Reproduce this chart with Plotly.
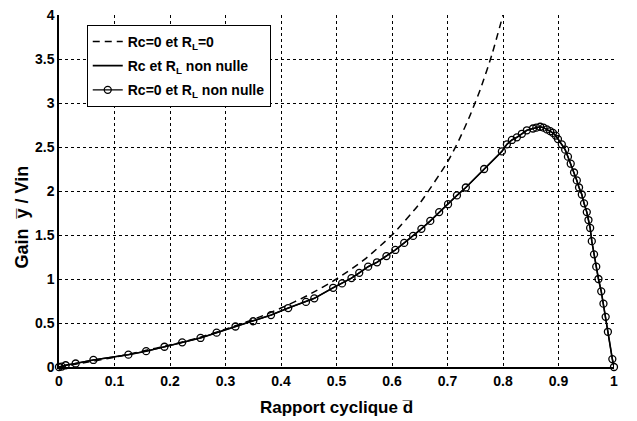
import plotly.graph_objects as go

# Ideal curve (Rc=0 et RL=0)
d_ideal = [0, 0.05, 0.1, 0.15, 0.2, 0.25, 0.3, 0.35, 0.4, 0.45, 0.5, 0.55, 0.6, 0.65,
           0.7, 0.72, 0.74, 0.76, 0.78, 0.8]
g_ideal = [0, 0.053, 0.11, 0.18, 0.25, 0.33, 0.43, 0.54, 0.67, 0.82, 1.0, 1.22, 1.5, 1.86,
           2.33, 2.57, 2.85, 3.17, 3.55, 4.0]

# Lossy curve
d_loss = [0, 0.005, 0.012, 0.03, 0.062, 0.125, 0.157, 0.19, 0.222, 0.255, 0.284, 0.318,
          0.35, 0.382, 0.413, 0.445, 0.46, 0.494, 0.51, 0.527, 0.541, 0.557, 0.573, 0.59,
          0.606, 0.622, 0.638, 0.653, 0.669, 0.685, 0.701, 0.717, 0.733, 0.766, 0.798,
          0.807, 0.816, 0.825, 0.834, 0.843, 0.854, 0.86, 0.867, 0.873, 0.879, 0.885,
          0.89, 0.895, 0.899, 0.906, 0.912, 0.917, 0.922, 0.928, 0.933, 0.937, 0.942,
          0.946, 0.951, 0.954, 0.957, 0.96, 0.964, 0.968, 0.972, 0.977, 0.981, 0.985,
          0.989, 0.997, 1.0]
g_loss = [0, 0.005, 0.02, 0.04, 0.08, 0.14, 0.18, 0.23, 0.28, 0.33, 0.39, 0.46,
          0.52, 0.59, 0.67, 0.74, 0.78, 0.90, 0.95, 1.01, 1.07, 1.14, 1.19, 1.26,
          1.33, 1.41, 1.49, 1.57, 1.66, 1.76, 1.85, 1.95, 2.04, 2.25, 2.45,
          2.53, 2.58, 2.61, 2.65, 2.69, 2.71, 2.72, 2.73, 2.72, 2.70, 2.68,
          2.66, 2.63, 2.59, 2.53, 2.47, 2.39, 2.31, 2.21, 2.12, 2.04, 1.96,
          1.86, 1.76, 1.67, 1.58, 1.43, 1.28, 1.14, 1.0, 0.86, 0.72, 0.57,
          0.4, 0.09, 0]

x_ticks = [0, 0.1, 0.2, 0.3, 0.4, 0.5, 0.6, 0.7, 0.8, 0.9, 1]
x_ticklabels = ["0", "0.1", "0.2", "0.3", "0.4", "0.5", "0.6", "0.7", "0.8", "0.9", "1"]
y_ticks = [0, 0.5, 1, 1.5, 2, 2.5, 3, 3.5, 4]
y_ticklabels = ["0", "0.5", "1", "1.5", "2", "2.5", "3", "3.5", "4"]

FONT = "Liberation Sans, Arial, sans-serif"

fig = go.Figure()
fig.add_trace(go.Scatter(
    x=d_ideal, y=g_ideal, mode="lines", name="Rc=0 et R<sub>L</sub>=0", legendgroup="a",
    line=dict(color="black", width=1.5, dash="7px,5px", shape="spline", smoothing=0.6),
))
fig.add_trace(go.Scatter(
    x=d_loss, y=g_loss, mode="lines", name="Rc et R<sub>L</sub> non nulle", legendgroup="b",
    line=dict(color="black", width=1.6),
))
fig.add_trace(go.Scatter(
    x=d_loss, y=g_loss, mode="lines+markers", name="Rc=0 et R<sub>L</sub> non nulle",
    legendgroup="c",
    line=dict(color="black", width=1.3),
    marker=dict(symbol="circle-open", size=7, color="black", line=dict(width=1.3)),
    cliponaxis=False,
))

fig.update_layout(
    width=637, height=421,
    margin=dict(l=59, r=23, t=15, b=54, autoexpand=False),
    plot_bgcolor="white", paper_bgcolor="white",
    font=dict(family=FONT, color="black"),
    showlegend=True,
    legend=dict(
        x=0.05, y=0.972, xanchor="left", yanchor="top",
        bgcolor="white", bordercolor="black", borderwidth=1,
        font=dict(family=FONT, size=14, weight="bold", color="black"),
        tracegroupgap=3, itemwidth=30,
    ),
    annotations=[dict(
        text="Gain  y\u0305 / Vin", textangle=-90,
        xref="paper", yref="paper", x=-0.066, y=0.426,
        xanchor="center", yanchor="middle", showarrow=False,
        font=dict(family=FONT, size=18, weight="bold", color="black"),
    )],
)
fig.update_xaxes(
    range=[0, 1], tickvals=x_ticks, ticktext=x_ticklabels, automargin=False,
    showline=True, linecolor="black", linewidth=1.5,
    showgrid=True, gridcolor="#000000", gridwidth=1, griddash="dot",
    zeroline=False, ticks="",
    tickfont=dict(family=FONT, size=14, weight="bold"),
    title=dict(text="Rapport cyclique d\u0305", standoff=14,
               font=dict(family=FONT, size=17, weight="bold")),
)
fig.update_yaxes(
    range=[0, 4], tickvals=y_ticks, ticktext=y_ticklabels, automargin=False,
    showline=True, linecolor="black", linewidth=1.5,
    showgrid=True, gridcolor="#000000", gridwidth=1, griddash="dot",
    zeroline=False, ticks="",
    tickfont=dict(family=FONT, size=14, weight="bold"),
)

fig.write_html("out.html")
